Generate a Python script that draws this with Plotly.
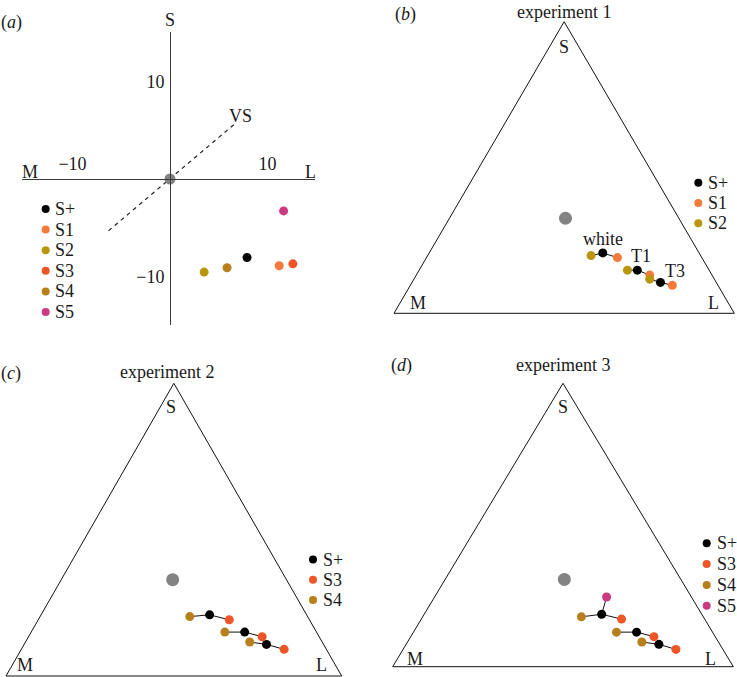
import plotly.graph_objects as go

W, H = 737, 677
SERIF = "Liberation Serif, Times New Roman, serif"
FS = 18
TXT = "#1a1a1a"

COLOURS = {"S+": "#000000", "S1": "#F37A3B", "S2": "#B9960E",
           "S3": "#EE5628", "S4": "#B8801C", "S5": "#CC3A80"}
GREY = "#838383"

# ---------------- panel (a): colour-space coordinates ----------------
A_NAMES = ["S+", "S1", "S2", "S3", "S4", "S5"]
A_X = [7.9, 11.2, 3.5, 12.6, 5.85, 11.65]
A_Y = [-8.05, -8.9, -9.55, -8.7, -9.1, -3.27]
A_ACHRO_X = [0]
A_ACHRO_Y = [0]
A_VS_X = [-6.3, 6.7]
A_VS_Y = [-5.3, 5.7]
A_TICKS = [-10, 10]

# ---------------- ternary panels: (S, M, L) fractions ----------------
CONDITIONS = ["white", "T1", "T3"]

EXP1_ACHRO = [[0.326, 0.333, 0.341]]
EXP1_SPLUS = [[0.207, 0.283, 0.510], [0.148, 0.211, 0.641], [0.106, 0.164, 0.730]]
EXP1_S1 = [[0.191, 0.248, 0.561], [0.131, 0.183, 0.686], [0.096, 0.134, 0.770]]
EXP1_S2 = [[0.198, 0.322, 0.480], [0.148, 0.240, 0.612], [0.117, 0.190, 0.693]]

EXP2_ACHRO = [[0.329, 0.339, 0.332]]
EXP2_SPLUS = [[0.209, 0.289, 0.502], [0.150, 0.214, 0.636], [0.108, 0.170, 0.722]]
EXP2_S3 = [[0.192, 0.239, 0.569], [0.134, 0.170, 0.696], [0.091, 0.126, 0.783]]
EXP2_S4 = [[0.203, 0.351, 0.446], [0.150, 0.273, 0.577], [0.116, 0.216, 0.668]]

EXP3_ACHRO = [[0.308, 0.342, 0.350]]
EXP3_SPLUS = [[0.185, 0.294, 0.521], [0.122, 0.223, 0.655], [0.079, 0.179, 0.742]]
EXP3_S3 = [[0.168, 0.244, 0.588], [0.106, 0.180, 0.714], [0.061, 0.138, 0.801]]
EXP3_S4 = [[0.176, 0.358, 0.466], [0.122, 0.282, 0.596], [0.087, 0.225, 0.688]]
EXP3_S5 = [[0.246, 0.249, 0.505]]

CORNERS = [[0, 1, 0], [0, 0, 1], [1, 0, 0], [0, 1, 0]]  # M, L, S, back to M


def tern_xy(pts):
    """barycentric (S, M, L) -> plane coords: M=(0,0), L=(1,0), S=(0.5,1)"""
    return [p[2] + p[0] / 2 for p in pts], [p[0] for p in pts]


fig = go.Figure()
layout = {}
annotations = []


def ann(px, py, text, xanchor="center", size=FS):
    annotations.append(dict(x=px / W, y=1 - py / H, xref="paper", yref="paper",
                            text=text, showarrow=False, xanchor=xanchor,
                            yanchor="middle",
                            font=dict(family=SERIF, size=size, color=TXT)))


# ---------------- panel (a) axes ----------------
OX, OY, K = 170.0, 179.0, 9.75
XL, XR, YT, YB = 21.7, 315.0, 32.3, 325.0
axis_common = dict(showgrid=False, zeroline=False, showline=True, linecolor="#3a3a3a",
                   linewidth=1, ticks="", tickvals=A_TICKS, fixedrange=True,
                   tickfont=dict(family=SERIF, size=FS, color=TXT))
layout["xaxis"] = dict(axis_common, domain=[XL / W, XR / W],
                       range=[(XL - OX) / K, (XR - OX) / K],
                       anchor="free", position=1 - OY / H, side="top",
                       ticklabelstandoff=2)
layout["yaxis"] = dict(axis_common, domain=[1 - YB / H, 1 - YT / H],
                       range=[(OY - YB) / K, (OY - YT) / K],
                       anchor="free", position=OX / W, side="left",
                       ticklabelstandoff=2)

fig.add_trace(go.Scatter(x=A_VS_X, y=A_VS_Y, mode="lines", xaxis="x", yaxis="y",
                         line=dict(color="#222", width=1.2, dash="4px,4px"),
                         showlegend=False, hoverinfo="skip"))
fig.add_trace(go.Scatter(x=A_ACHRO_X, y=A_ACHRO_Y, mode="markers", xaxis="x", yaxis="y",
                         marker=dict(size=11, color=GREY), showlegend=False))
for n, x, y in zip(A_NAMES, A_X, A_Y):
    fig.add_trace(go.Scatter(x=[x], y=[y], mode="markers", xaxis="x", yaxis="y",
                             marker=dict(size=9, color=COLOURS[n]), name=n,
                             showlegend=False))

ann(30, 171.7, "M")
ann(310, 171.7, "L")
ann(170, 20, "S")
ann(240.8, 116, "VS")


# ---------------- ternary panels ----------------
def tri_axes(idx, x0, x1, yb, yt, pad=10):
    wt, ht = x1 - x0, yb - yt
    pa, pb = max(0.0, x0 - pad), min(W, x1 + pad)
    qt, qb = max(0.0, yt - pad), min(H, yb + pad)
    layout[f"xaxis{idx}"] = dict(domain=[pa / W, pb / W],
                                 range=[(pa - x0) / wt, (pb - x0) / wt],
                                 visible=False, fixedrange=True, anchor=f"y{idx}")
    layout[f"yaxis{idx}"] = dict(domain=[1 - qb / H, 1 - qt / H],
                                 range=[(yb - qb) / ht, (yb - qt) / ht],
                                 visible=False, fixedrange=True, anchor=f"x{idx}")


def tri_panel(idx, achro, groups, links):
    xa, ya = f"x{idx}", f"y{idx}"
    tx, ty = tern_xy(CORNERS)
    fig.add_trace(go.Scatter(x=tx, y=ty, mode="lines", xaxis=xa, yaxis=ya,
                             line=dict(color="#111", width=1), showlegend=False,
                             hoverinfo="skip"))
    lx, ly = [], []
    for a, b in links:
        for i in range(len(groups[a])):
            if i < len(groups[b]):
                px_, py_ = tern_xy([groups[a][i], groups[b][i]])
                lx += px_ + [None]
                ly += py_ + [None]
    fig.add_trace(go.Scatter(x=lx, y=ly, mode="lines", xaxis=xa, yaxis=ya,
                             line=dict(color="#111", width=1), showlegend=False,
                             hoverinfo="skip"))
    gx, gy = tern_xy(achro)
    fig.add_trace(go.Scatter(x=gx, y=gy, mode="markers", xaxis=xa, yaxis=ya,
                             marker=dict(size=13, color=GREY), showlegend=False))
    for n, pts in groups.items():
        x, y = tern_xy(pts)
        fig.add_trace(go.Scatter(x=x, y=y, mode="markers", xaxis=xa, yaxis=ya, name=n,
                                 text=CONDITIONS[:len(pts)],
                                 marker=dict(size=9, color=COLOURS[n]), showlegend=False))


tri_axes(2, 394.0, 734.3, 313.3, 21.7)
tri_panel(2, EXP1_ACHRO, {"S+": EXP1_SPLUS, "S1": EXP1_S1, "S2": EXP1_S2},
          [("S2", "S+"), ("S+", "S1")])
tri_axes(3, 6.0, 341.7, 676.0, 383.3)
tri_panel(3, EXP2_ACHRO, {"S+": EXP2_SPLUS, "S3": EXP2_S3, "S4": EXP2_S4},
          [("S4", "S+"), ("S+", "S3")])
tri_axes(4, 392.7, 733.3, 666.7, 383.3)
tri_panel(4, EXP3_ACHRO, {"S+": EXP3_SPLUS, "S3": EXP3_S3, "S4": EXP3_S4, "S5": EXP3_S5},
          [("S4", "S+"), ("S+", "S3"), ("S+", "S5")])

# labels inside triangles
ann(564.3, 46.7, "S"); ann(418.3, 303.3, "M"); ann(713.3, 303.3, "L")
ann(170.7, 407.3, "S"); ann(25, 665, "M"); ann(321.7, 665, "L")
ann(563, 407.3, "S"); ann(415, 659, "M"); ann(710.7, 659, "L")
ann(602.7, 239, "white"); ann(641, 256, "T1"); ann(674.5, 271, "T3")

# panel titles / letters
ann(11, 22, "(<i>a</i>)")
ann(405.5, 14, "(<i>b</i>)")
ann(10.5, 373, "(<i>c</i>)")
ann(401, 365, "(<i>d</i>)")
ann(563.7, 12, "experiment 1")
ann(166.7, 372, "experiment 2")
ann(563, 365, "experiment 3")

# ---------------- legends (drawn on a full-figure pixel overlay) ----------------
layout["xaxis5"] = dict(domain=[0, 1], range=[0, W], visible=False, fixedrange=True, anchor="y5")
layout["yaxis5"] = dict(domain=[0, 1], range=[H, 0], visible=False, fixedrange=True, anchor="x5")


def legend(names, x, y0, dy, gap=7):
    for i, n in enumerate(names):
        yy = y0 + i * dy
        fig.add_trace(go.Scatter(x=[x], y=[yy], mode="markers", xaxis="x5", yaxis="y5",
                                 marker=dict(size=8, color=COLOURS[n]), showlegend=False,
                                 hoverinfo="skip"))
        ann(x + gap, yy, n, xanchor="left")


legend(A_NAMES, 45.7, 209, 20.6)
legend(["S+", "S1", "S2"], 698.3, 182.7, 20.3, gap=8)
legend(["S+", "S3", "S4"], 313, 559.5, 20.3, gap=8)
legend(["S+", "S3", "S4", "S5"], 706.7, 543.3, 20.8, gap=8)

fig.update_layout(width=W, height=H, margin=dict(l=0, r=0, t=0, b=0),
                  paper_bgcolor="white", plot_bgcolor="rgba(0,0,0,0)",
                  showlegend=False, annotations=annotations, **layout)
fig.write_html("out.html", config={"displayModeBar": False},
               post_script="document.body.style.margin='0';document.body.style.overflow='hidden';")
